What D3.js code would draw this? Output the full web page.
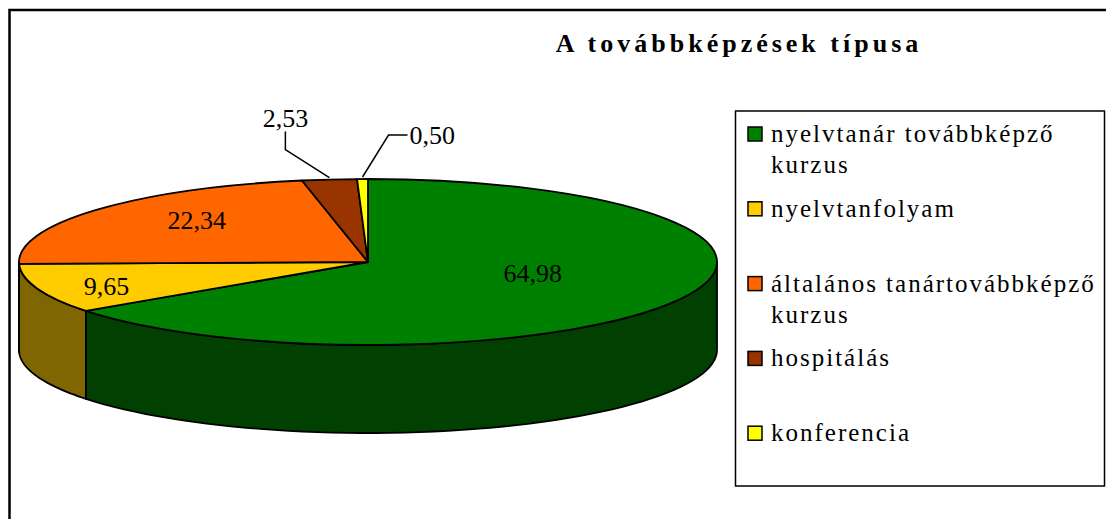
<!DOCTYPE html>
<html>
<head>
<meta charset="utf-8">
<script src="https://cdn.jsdelivr.net/npm/d3@7"></script>
<style>
  body { margin: 0; background: #fff; }
  svg { display: block; }
</style>
</head>
<body>
<div id="chart"></div>
<script>
// Chart data
const categories = [
  'nyelvtanár továbbképző kurzus',
  'nyelvtanfolyam',
  'általános tanártovábbképző kurzus',
  'hospitálás',
  'konferencia'
];
const legendLines = [
  ['nyelvtanár továbbképző', 'kurzus'],
  ['nyelvtanfolyam'],
  ['általános tanártovábbképző', 'kurzus'],
  ['hospitálás'],
  ['konferencia']
];
const values = [64.98, 9.65, 22.34, 2.53, 0.5];
const valueLabels = ['64,98', '9,65', '22,34', '2,53', '0,50'];
const colors = ['#008000', '#FFCC00', '#FF6600', '#993300', '#FFFF00'];
const title = 'A továbbképzések típusa';

// Dimensions
const width = 1106;
const height = 519;
const serif = 'Liberation Serif';

const svg = d3
  .select('#chart')
  .append('svg')
  .attr('width', width)
  .attr('height', height)
  .attr('font-family', serif);

// Outer chart frame (runs off the right and bottom edge)
svg
  .append('rect')
  .attr('x', 9.5)
  .attr('y', 10)
  .attr('width', 1200)
  .attr('height', 600)
  .attr('fill', 'none')
  .attr('stroke', '#000')
  .attr('stroke-width', 2.5);

// Title
svg
  .append('text')
  .attr('x', 739)
  .attr('y', 52)
  .attr('text-anchor', 'middle')
  .attr('font-size', 26)
  .attr('font-weight', 'bold')
  .attr('letter-spacing', 4)
  .text(title);

// 3D pie geometry
const cx = 368;
const cy = 262;
const rx = 349;
const ry = 83;
const depth = 88;

const pie = d3.pie().sort(null).value((d) => d);
const arcs = pie(values);

// point on the ellipse for a pie angle (clockwise from 12 o'clock)
function pt(a, dy = 0) {
  return [cx + rx * Math.sin(a), cy - ry * Math.cos(a) + dy];
}

function shade(c) {
  const r = d3.rgb(c);
  return d3.rgb(r.r * 0.5, r.g * 0.5, r.b * 0.5).formatHex();
}

const line = d3.line();

// Side walls: only the front half (pi/2 .. 3pi/2) is visible
const sides = svg.append('g');
arcs.forEach((d, i) => {
  const a0 = Math.max(d.startAngle, Math.PI / 2);
  const a1 = Math.min(d.endAngle, (3 * Math.PI) / 2);
  if (a1 <= a0) return;
  const n = 60;
  const top = d3.range(n + 1).map((k) => pt(a0 + ((a1 - a0) * k) / n));
  const bottom = top.map((p) => [p[0], p[1] + depth]).reverse();
  sides
    .append('path')
    .attr('d', line(top.concat(bottom)) + 'Z')
    .attr('fill', shade(colors[i]))
    .attr('stroke', '#000')
    .attr('stroke-width', 1.8)
    .attr('stroke-linejoin', 'round');
});

// Top faces
const tops = svg.append('g');
arcs.forEach((d, i) => {
  const p0 = pt(d.startAngle);
  const p1 = pt(d.endAngle);
  const large = d.endAngle - d.startAngle > Math.PI ? 1 : 0;
  tops
    .append('path')
    .attr(
      'd',
      `M${cx},${cy}L${p0[0]},${p0[1]}A${rx},${ry} 0 ${large} 1 ${p1[0]},${p1[1]}Z`
    )
    .attr('fill', colors[i])
    .attr('stroke', '#000')
    .attr('stroke-width', 1.8)
    .attr('stroke-linejoin', 'round');
});

// Value labels
const labelFrac = [0.53, 0.8, 0.63];
const labels = svg.append('g').attr('font-size', 26);
arcs.forEach((d, i) => {
  const mid = (d.startAngle + d.endAngle) / 2;
  if (i < 3) {
    const f = labelFrac[i];
    labels
      .append('text')
      .attr('x', cx + rx * Math.sin(mid) * f + (i === 1 ? 3 : 0))
      .attr('y', cy - ry * Math.cos(mid) * f + (i === 1 ? 12 : 0))
      .attr('text-anchor', 'middle')
      .text(valueLabels[i]);
  } else {
    // outside label with a leader line
    const e = pt(mid, -2);
    let pts;
    let tx;
    let ty;
    let anchor;
    if (i === 3) {
      const elbow = [e[0] - 44, e[1] - 28];
      pts = [e, elbow, [elbow[0], elbow[1] - 18]];
      tx = elbow[0];
      ty = elbow[1] - 23;
      anchor = 'middle';
    } else {
      const elbow = [e[0] + 26, e[1] - 42];
      pts = [e, elbow, [elbow[0] + 19, elbow[1]]];
      tx = elbow[0] + 21;
      ty = elbow[1] + 9;
      anchor = 'start';
    }
    labels
      .append('path')
      .attr('d', line(pts))
      .attr('fill', 'none')
      .attr('stroke', '#000')
      .attr('stroke-width', 1.5);
    labels
      .append('text')
      .attr('x', tx)
      .attr('y', ty)
      .attr('text-anchor', anchor)
      .text(valueLabels[i]);
  }
});

// Legend
const legend = svg.append('g');
legend
  .append('rect')
  .attr('x', 735.5)
  .attr('y', 111)
  .attr('width', 369)
  .attr('height', 375)
  .attr('fill', '#fff')
  .attr('stroke', '#000')
  .attr('stroke-width', 1.5);

categories.forEach((c, i) => {
  const by = 142 + i * 74.8;
  legend
    .append('rect')
    .attr('x', 748)
    .attr('y', by - 15)
    .attr('width', 14)
    .attr('height', 14)
    .attr('fill', colors[i])
    .attr('stroke', '#000')
    .attr('stroke-width', 1.5);
  const t = legend
    .append('text')
    .attr('font-size', 25)
    .attr('letter-spacing', 2);
  legendLines[i].forEach((s, k) => {
    t.append('tspan')
      .attr('x', 771)
      .attr('y', by + k * 31)
      .text(s);
  });
});
</script>
</body>
</html>
